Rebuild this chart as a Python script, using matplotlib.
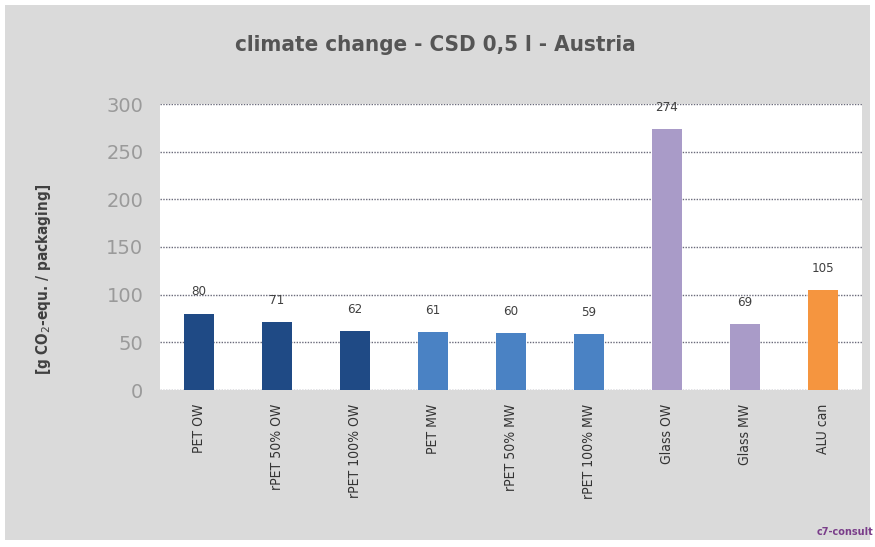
import matplotlib.pyplot as plt
from matplotlib.patches import Rectangle

# data
categories = ['PET OW', 'rPET 50% OW', 'rPET 100% OW', 'PET MW', 'rPET 50% MW',
              'rPET 100% MW', 'Glass OW', 'Glass MW', 'ALU can']
values = [80, 71, 62, 61, 60, 59, 274, 69, 105]
colors = ['#1f4a85', '#1f4a85', '#1f4a85', '#4a82c4', '#4a82c4', '#4a82c4',
          '#a99bc8', '#a99bc8', '#f5953f']
yticks = [0, 50, 100, 150, 200, 250, 300]

fig = plt.figure(figsize=(8.75, 5.47), dpi=100)
fig.patch.set_facecolor('white')
# grey panel behind everything
fig.patches.append(Rectangle((5/875, 7/547), 865/875, 535/547, transform=fig.transFigure,
                             facecolor='#dadada', edgecolor='none', zorder=-5))

ax = fig.add_axes([160/875, 1-390/547, 702/875, 286/547])
ax.set_facecolor('white')
x = range(len(categories))
ax.bar(x, values, width=0.39, color=colors, zorder=3)
for i, v in enumerate(values):
    ax.text(i, v + 16, str(v), ha='center', va='bottom', fontsize=9.5, color='#404040',
            fontstretch='condensed')

ax.set_xlim(-0.5, len(categories) - 0.5)
ax.set_ylim(0, 300)
ax.set_yticks(yticks)
ax.set_yticklabels([str(t) for t in yticks], fontsize=14, color='#9a9a9a')
ax.set_xticks(list(x))
ax.set_xticklabels(categories, rotation=90, fontsize=10, color='#333333',
                   fontstretch='condensed')
ax.tick_params(length=0, pad=10)
ax.tick_params(axis='y', pad=12)
ax.yaxis.grid(True, linestyle=(0, (1, 1)), color='#6a6a7a', linewidth=1, zorder=1)
ax.set_axisbelow(True)
for s in ax.spines.values():
    s.set_visible(False)

ax.set_ylabel(r'[g CO$_2$-equ. / packaging]', fontsize=11, color='#404040',
              fontstretch='condensed', fontweight='semibold')
ax.yaxis.set_label_coords(-0.152, 0.385)

fig.text(435/875, 1-45/547, 'climate change - CSD 0,5 l - Austria', ha='center', va='center',
         fontsize=16, color='#555555', fontstretch='condensed', fontweight='semibold')
fig.text(845/875, 1-532/547, 'c7-consult', ha='center', va='center', fontsize=7,
         color='#7a3d8a', fontweight='bold')

fig.savefig('out.png', dpi=100)
